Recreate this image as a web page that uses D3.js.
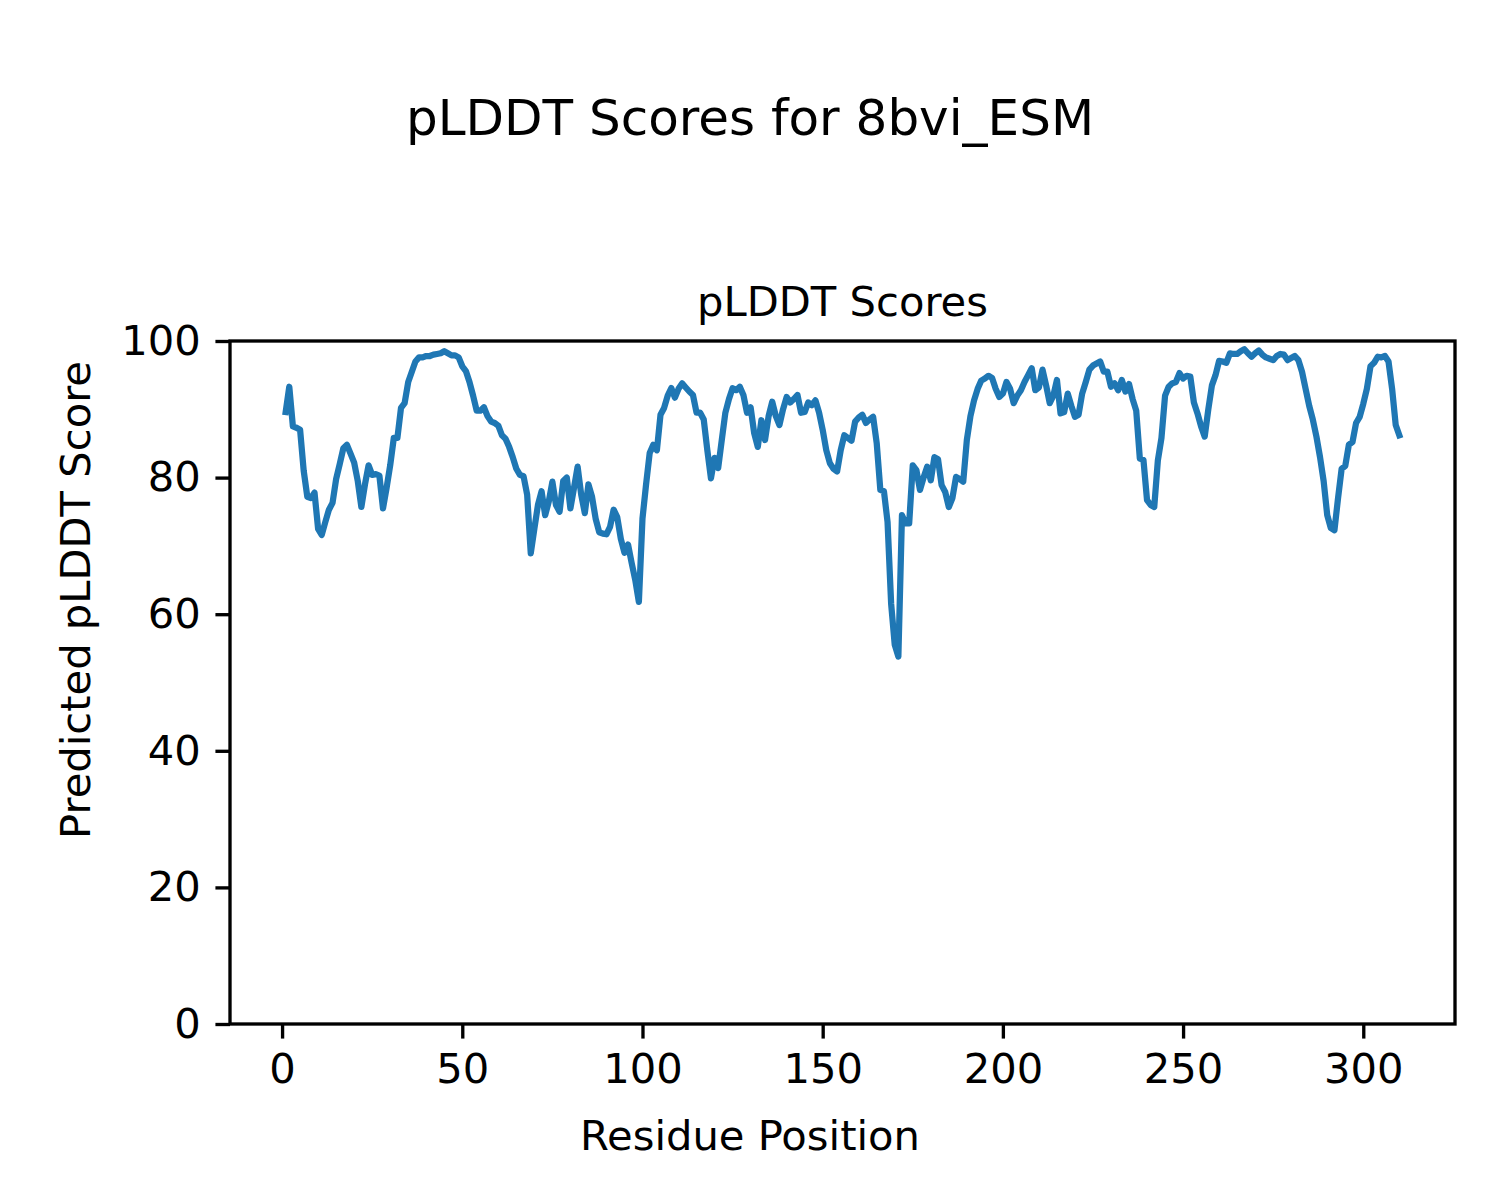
<!DOCTYPE html>
<html>
<head>
<meta charset="utf-8">
<script src="https://cdn.jsdelivr.net/npm/d3@7"></script>
<style>
  html, body { margin: 0; padding: 0; background: #fff; }
  svg { display: block; font-family: "DejaVu Sans", sans-serif; }
</style>
</head>
<body>
<svg id="chart" width="1500" height="1200"></svg>
<script>
// ---- data ----
const suptitleText = "pLDDT Scores for 8bvi_ESM";
const titleText = "pLDDT Scores";
const xLabelText = "Residue Position";
const yLabelText = "Predicted pLDDT Score";
const xTicks = [0, 50, 100, 150, 200, 250, 300];
const yTicks = [0, 20, 40, 60, 80, 100];
const residueStart = 1;
const plddt = [
  89.6, 93.3, 87.5, 87.3, 87.0, 81.0, 77.2, 77.0, 77.8, 72.5,
  71.6, 73.5, 75.3, 76.3, 79.8, 82.0, 84.3, 84.8, 83.5, 82.2,
  79.5, 75.7, 79.0, 81.8, 80.4, 80.5, 80.3, 75.5, 78.5, 81.8,
  85.8, 85.8, 90.2, 90.9, 94.0, 95.5, 97.0, 97.6, 97.6, 97.8,
  97.8, 98.0, 98.1, 98.2, 98.5, 98.2, 97.9, 97.9, 97.6, 96.3,
  95.6, 94.0, 92.0, 89.8, 89.8, 90.3, 89.0, 88.2, 88.0, 87.6,
  86.2, 85.7, 84.5, 83.0, 81.3, 80.4, 80.2, 77.5, 68.9, 72.5,
  76.0, 78.0, 74.5, 76.5, 79.4, 76.0, 75.0, 79.5, 80.0, 75.5,
  78.5, 81.6, 77.5, 74.8, 79.0, 77.2, 74.0, 72.0, 71.8, 71.7,
  72.8, 75.3, 74.2, 71.0, 69.0, 70.2, 67.5, 65.0, 61.8, 74.0,
  79.0, 83.6, 84.8, 84.0, 89.2, 90.2, 92.0, 93.1, 91.7, 93.0,
  93.8, 93.2, 92.6, 92.1, 89.5, 89.5, 88.5, 84.0, 79.9, 82.9,
  81.4, 85.5, 89.5, 91.5, 93.1, 92.8, 93.3, 92.1, 89.5, 90.3,
  86.5, 84.5, 88.4, 85.5, 89.0, 91.1, 89.0, 87.7, 90.0, 91.8,
  91.0, 91.5, 92.1, 89.5, 89.6, 91.0, 90.6, 91.3, 89.5, 87.0,
  84.0, 82.1, 81.3, 80.9, 84.0, 86.2, 85.8, 85.4, 88.2, 88.8,
  89.2, 88.0, 88.5, 88.9, 85.0, 78.2, 78.0, 73.5, 61.5, 55.5,
  53.8, 74.5, 73.3, 73.3, 81.8, 81.1, 78.2, 80.0, 81.6, 79.6,
  83.0, 82.7, 78.9, 77.9, 75.7, 77.0, 80.1, 79.8, 79.4, 85.5,
  89.0, 91.3, 93.0, 94.2, 94.5, 94.9, 94.6, 93.0, 91.8, 92.3,
  94.0, 93.0, 90.9, 92.0, 92.8, 94.0, 95.0, 96.0, 92.8, 93.2,
  95.8, 93.5, 90.9, 92.0, 94.3, 89.4, 89.6, 92.3, 90.5, 88.9,
  89.2, 92.3, 94.0, 95.8, 96.4, 96.7, 97.0, 95.5, 95.5, 93.3,
  93.8, 92.8, 94.3, 92.6, 93.7, 91.5, 89.8, 82.8, 82.6, 76.7,
  76.0, 75.7, 82.5, 85.8, 92.0, 93.3, 93.8, 94.0, 95.3, 94.5,
  94.9, 94.8, 91.0, 89.4, 87.5, 86.0, 90.0, 93.5, 95.0, 97.1,
  97.0, 96.8, 98.2, 98.1, 98.1, 98.5, 98.8, 98.2, 97.7, 98.2,
  98.6, 98.0, 97.6, 97.4, 97.2, 97.8, 98.1, 98.0, 97.2, 97.5,
  97.8, 97.2, 95.5, 93.0, 90.5, 88.5, 86.0, 83.0, 79.5, 74.5,
  72.6, 72.3, 77.0, 81.3, 81.7, 84.8, 85.2, 88.0, 88.9, 90.8,
  93.0, 96.3, 96.8, 97.7, 97.6, 97.8, 97.0, 93.0, 87.7, 86.2
];
const residues = plddt.map((_, i) => residueStart + i);

// ---- layout ----
const W = 1500, H = 1200;
const plot = { left: 230, right: 1455, top: 341, bottom: 1024 };
const pt = 300 / 72;
const fontTick = 10 * pt;

const svg = d3.select("#chart");

const xMin = d3.min(residues), xMax = d3.max(residues);
const pad = (xMax - xMin) * 0.05;
const x = d3.scaleLinear().domain([xMin - pad, xMax + pad]).range([plot.left, plot.right]);
const y = d3.scaleLinear().domain([0, 100]).range([plot.bottom, plot.top]);

// line
const line = d3.line().x((d, i) => x(residues[i])).y(d => y(d));
svg.append("path")
  .datum(plddt)
  .attr("d", line)
  .attr("fill", "none")
  .attr("stroke", "#1f77b4")
  .attr("stroke-width", 1.5 * pt)
  .attr("stroke-linejoin", "round")
  .attr("stroke-linecap", "square");

// axes
const tickLen = 3.5 * pt, tickPad = 3.5 * pt;
const xAxis = d3.axisBottom(x).tickValues(xTicks).tickSize(tickLen).tickPadding(tickPad).tickFormat(d3.format("d"));
const yAxis = d3.axisLeft(y).tickValues(yTicks).tickSize(tickLen).tickPadding(tickPad).tickFormat(d3.format("d"));

const gx = svg.append("g").attr("transform", `translate(0,${plot.bottom})`).call(xAxis);
const gy = svg.append("g").attr("transform", `translate(${plot.left},0)`).call(yAxis);
[gx, gy].forEach(g => {
  g.select(".domain").remove();
  g.selectAll(".tick line").attr("stroke", "#000").attr("stroke-width", 0.8 * pt);
  g.selectAll(".tick text").attr("fill", "#000").style("font-size", fontTick + "px").style("font-family", "DejaVu Sans");
});

// frame
svg.append("rect")
  .attr("x", plot.left).attr("y", plot.top)
  .attr("width", plot.right - plot.left).attr("height", plot.bottom - plot.top)
  .attr("fill", "none").attr("stroke", "#000").attr("stroke-width", 0.8 * pt);

// texts
svg.append("text").attr("x", W / 2).attr("y", 135).attr("text-anchor", "middle")
  .style("font-size", (12 * pt) + "px").text(suptitleText);
svg.append("text").attr("x", (plot.left + plot.right) / 2).attr("y", plot.top - 6 * pt).attr("text-anchor", "middle")
  .style("font-size", fontTick + "px").text(titleText);
svg.append("text").attr("x", W / 2).attr("y", 1150).attr("text-anchor", "middle")
  .style("font-size", fontTick + "px").text(xLabelText);
svg.append("text").attr("transform", `translate(90,${H / 2}) rotate(-90)`).attr("text-anchor", "middle")
  .style("font-size", fontTick + "px").text(yLabelText);
</script>
</body>
</html>
